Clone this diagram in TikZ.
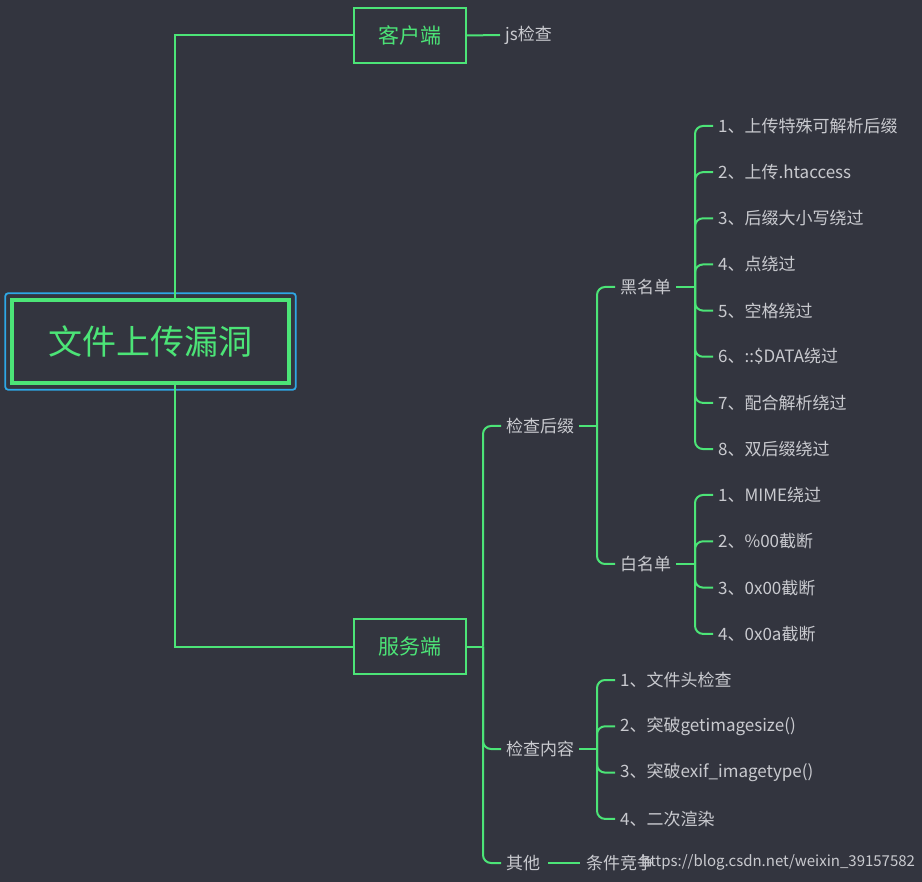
\documentclass[tikz,border=0pt]{standalone}
\usepackage{fontspec}
\setmainfont{Noto Sans CJK SC}
\usepackage{tikz}
\usetikzlibrary{fit}
\definecolor{mapBg}{HTML}{33353F}
\definecolor{mapGreen}{HTML}{4CE477}
\definecolor{mapText}{HTML}{C9CACF}
\definecolor{mapBlue}{HTML}{2EA8E6}
\tikzset{
  mindRoot/.style={draw=mapGreen, line width=4.5pt, text=mapGreen, font=\fontsize{34}{40}\selectfont, minimum width=277pt, minimum height=83pt, inner sep=0pt},
  mindFrame/.style={draw=mapBlue, line width=1.8pt, rounded corners=3pt, inner sep=4.5pt},
  mindMain/.style={draw=mapGreen, line width=2pt, text=mapGreen, font=\fontsize{21}{25}\selectfont, minimum width=112pt, minimum height=55pt, inner sep=0pt},
  mindLabel/.style={anchor=west, text=mapText, font=\fontsize{17}{20}\selectfont, inner xsep=5pt, inner ysep=2pt},
  mindMark/.style={anchor=west, text=mapText, font=\fontsize{15}{18}\selectfont, inner sep=0pt},
  mindLink/.style={draw=mapGreen, line width=2pt},
  mindBranch/.style={mindLink, rounded corners=8pt}
}
\begin{document}
\begin{tikzpicture}[x=1pt, y=1pt]
      \useasboundingbox (0,0) rectangle (922,-882);
      \fill[mapBg] (0,0) rectangle (922,-882);
      \node[mindRoot] (root) at (150.5,-341.5) {文件上传漏洞};
      \node[mindFrame, fit=(root)] (rootFrame) {};
      \node[mindMain] (client) at (410,-35.5) {客户端};
      \node[mindMain] (server) at (410,-646.5) {服务端};
      \node[mindLabel] (jsCheck) at (500,-35) {js检查};
      \node[mindLabel] (suffix) at (501,-426) {检查后缀};
      \node[mindLabel] (content) at (501,-749) {检查内容};
      \node[mindLabel] (other) at (501,-863) {其他};
      \node[mindLabel] (race) at (581,-863) {条件竞争};
      \node[mindLabel] (black) at (615,-287) {黑名单};
      \node[mindLabel] (white) at (615,-564) {白名单};
      \coordinate (serverSpine) at (483,-646.5);
      \coordinate (suffixSpine) at (597,-426);
      \coordinate (contentSpine) at (597,-749);
      \coordinate (blackSpine) at (695,-287);
      \coordinate (whiteSpine) at (695,-564);
      \foreach \txt [count=\i] in {1、上传特殊可解析后缀, 2、上传.htaccess, 3、后缀大小写绕过, 4、点绕过, 5、空格绕过, 6、::\$DATA绕过, 7、配合解析绕过, 8、双后缀绕过}
        \node[mindLabel] (black\i) at (713,{-126-46.15*(\i-1)}) {\txt};
      \foreach \txt [count=\i] in {1、MIME绕过, 2、\%00截断, 3、0x00截断, 4、0x0a截断}
        \node[mindLabel] (white\i) at (713,{-495-46.3*(\i-1)}) {\txt};
      \foreach \txt [count=\i] in {1、文件头检查, 2、突破getimagesize(), 3、突破exif\_imagetype(), 4、二次渲染}
        \node[mindLabel] (content\i) at (615,{-680-46.3*(\i-1)}) {\txt};
      \node[mindMark] (watermark) at (641,-862) {https://blog.csdn.net/weixin\_39157582};
      \draw[mindLink] ([xshift=24.5pt]root.north) |- (client.west);
      \draw[mindLink] ([xshift=24.5pt]root.south) |- (server.west);
      \draw[mindLink] (client.east) -- (jsCheck.west);
      \draw[mindLink] (server.east) -- (serverSpine);
      \foreach \n in {suffix, content, other}
        \draw[mindBranch] (serverSpine) |- (\n.west);
      \draw[mindLink] (other.east) ++(3pt,0) -- ([xshift=-1pt]race.west);
      \draw[mindLink] (suffix.east) -- (suffixSpine);
      \foreach \n in {black, white}
        \draw[mindBranch] (suffixSpine) |- (\n.west);
      \draw[mindLink] (black.east) -- (blackSpine);
      \foreach \i in {1,...,8}
        \draw[mindBranch] (blackSpine) |- (black\i.west);
      \draw[mindLink] (white.east) -- (whiteSpine);
      \foreach \i in {1,...,4}
        \draw[mindBranch] (whiteSpine) |- (white\i.west);
      \draw[mindLink] (content.east) -- (contentSpine);
      \foreach \i in {1,...,4}
        \draw[mindBranch] (contentSpine) |- (content\i.west);
    \end{tikzpicture}
\end{document}
